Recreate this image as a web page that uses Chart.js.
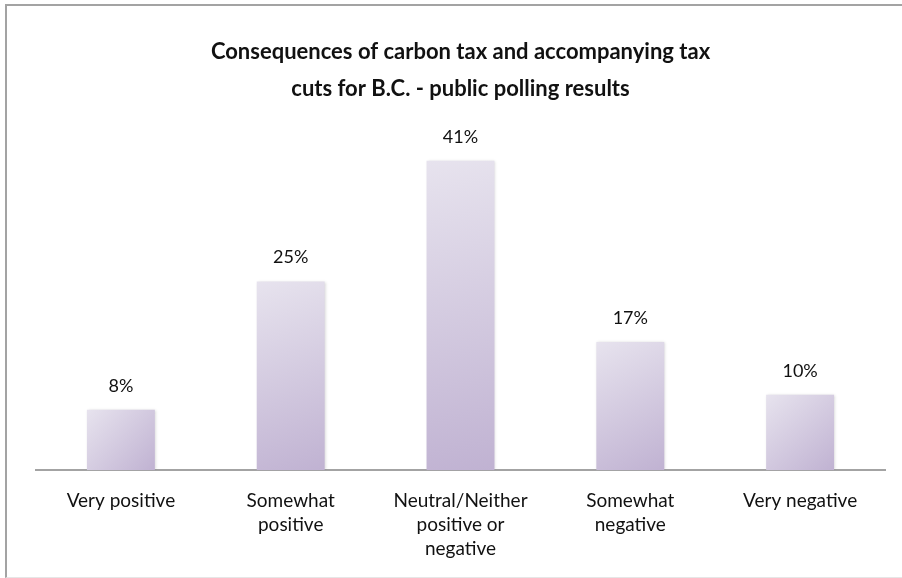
<!DOCTYPE html>
<html>
<head>
<meta charset="utf-8">
<script src="https://cdn.jsdelivr.net/npm/chart.js@4/dist/chart.umd.min.js"></script>
<style>
  html, body { margin: 0; padding: 0; background: #fff; overflow: hidden; }
  #frame {
    position: absolute; left: 5px; top: 4px; width: 910px; height: 571px;
    border-top: 2px solid #a3a3a3; border-left: 2px solid #a3a3a3; border-bottom: 1px solid #e6e6e6;
  }
  #wrap { position: absolute; left: 0; top: 0; width: 895px; height: 571px; }
</style>
</head>
<body>
<div id="frame"><div id="wrap"><canvas id="pollChart"></canvas></div></div>
<script>
// ── Data ─────────────────────────────────────────────────────────────────────

const CATEGORIES = [
    'Very positive',
    ['Somewhat', 'positive'],
    ['Neutral/Neither', 'positive or', 'negative'],
    ['Somewhat', 'negative'],
    'Very negative'
];
const SHARES = [8, 25, 41, 17, 10];
const TITLE_LINES = [
    'Consequences of carbon tax and accompanying tax',
    'cuts for B.C. - public polling results'
];

// ── Style ────────────────────────────────────────────────────────────────────

const FONT = 'Lato, "Open Sans", sans-serif';
const TEXT = '#111111';
const AXIS = '#a3a3a3';

// Diagonal lavender gradient per bar, built from the scales
function barFill(ctx) {
    const chart = ctx.chart;
    const x = chart.scales.x, y = chart.scales.y;
    if (!x || !y || ctx.raw === undefined) return '#d4cade';
    const cx = x.getPixelForValue(ctx.dataIndex);
    const half = x.width / CATEGORIES.length * 0.2;
    const top = y.getPixelForValue(ctx.raw);
    const base = y.getPixelForValue(0);
    if (![cx, half, top, base].every(Number.isFinite)) return '#d4cade';
    const g = chart.ctx.createLinearGradient(cx - half, top, cx + half, base);
    g.addColorStop(0, '#e7e3ee');
    g.addColorStop(1, '#c0b2d2');
    return g;
}

// Soft shadow behind the bars
const barShadow = {
    id: 'barShadow',
    beforeDatasetDraw(chart) {
        const c = chart.ctx;
        c.save();
        c.shadowColor = 'rgba(0,0,0,0.18)';
        c.shadowBlur = 3;
        c.shadowOffsetX = 1;
        c.shadowOffsetY = 0;
    },
    afterDatasetDraw(chart) {
        chart.ctx.restore();
    }
};

// Percent labels above each bar
const valueLabels = {
    id: 'valueLabels',
    afterDatasetsDraw(chart) {
        const c = chart.ctx;
        const meta = chart.getDatasetMeta(0);
        c.save();
        c.font = '18px ' + FONT;
        c.fillStyle = TEXT;
        c.textAlign = 'center';
        c.textBaseline = 'middle';
        meta.data.forEach((bar, i) => {
            c.fillText(SHARES[i] + '%', bar.x, bar.y - 24);
        });
        c.restore();
    }
};

// ── Chart ────────────────────────────────────────────────────────────────────

new Chart(document.getElementById('pollChart'), {
    type: 'bar',
    data: {
        labels: CATEGORIES,
        datasets: [{
            data: SHARES,
            backgroundColor: barFill,
            borderWidth: 0,
            barPercentage: 0.4,
            categoryPercentage: 1
        }]
    },
    plugins: [barShadow, valueLabels],
    options: {
        responsive: true,
        maintainAspectRatio: false,
        animation: false,
        layout: { padding: { left: 29, right: 17, top: 28, bottom: -3 } },
        plugins: {
            legend: { display: false },
            tooltip: { enabled: false },
            title: {
                display: true,
                text: TITLE_LINES,
                color: TEXT,
                font: { family: FONT, size: 22, weight: 'bold', lineHeight: 1.65 },
                padding: { top: 0, bottom: 24 }
            }
        },
        scales: {
            x: {
                grid: { display: false, drawTicks: false },
                border: { display: true, color: AXIS, width: 2 },
                ticks: {
                    color: TEXT,
                    font: { family: FONT, size: 19, lineHeight: 1.26 },
                    padding: 19,
                    maxRotation: 0,
                    autoSkip: false
                }
            },
            y: {
                display: false,
                min: 0,
                max: 45
            }
        }
    }
});
</script>
</body>
</html>
